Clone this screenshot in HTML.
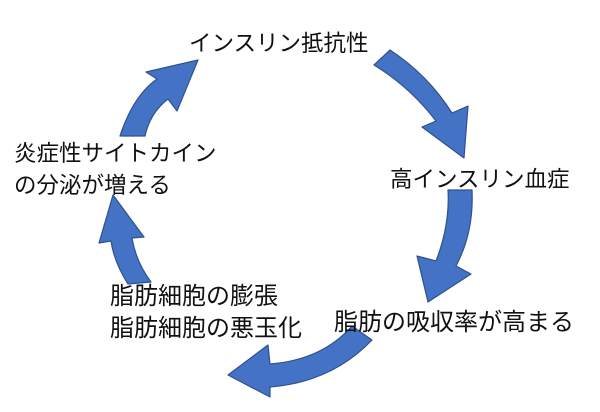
<!DOCTYPE html>
<html><head><meta charset="utf-8"><style>
body{margin:0;width:600px;height:412px;background:#fff;overflow:hidden;position:relative;font-family:"Liberation Sans","Noto Sans CJK JP",sans-serif;color:#111}
.t{position:absolute;font-size:22.5px;line-height:32px;white-space:nowrap}
svg{position:absolute;left:0;top:0}
</style></head><body>
<svg width="600" height="412">
<g fill="#4472C4" stroke="#2F528F" stroke-width="1.2" stroke-linejoin="round">
<path d="M390,50 Q428,75 452,113 L468,106 L464,158 L422,127 L436,121 Q410,87 374,65 Z"/>
<path d="M472,190 Q474,232 456,266 L471,274 L428,302 L417,256 L436,261 Q450,225 448,190 Z"/>
<path d="M372,340 Q332,382 270,387 L270,397 L228,375 L268,345 L270,364 Q322,360 352,326 Z"/>
<path d="M128,284 Q114,262 111,241 L99,243 L113,195 L144,237 L132,238 Q136,262 151,282 Z"/>
<path d="M120,136 Q133,96 157,79 L146,72 L198,60 L177,111 L168,99 Q150,113 145,136 Z"/>
</g></svg>
<div class="t" style="left:189px;top:28px">インスリン抵抗性</div>
<div class="t" style="left:390px;top:164px">高インスリン血症</div>
<div class="t" style="left:334px;top:307px;font-size:24px">脂肪の吸収率が高まる</div>
<div class="t" style="left:110px;top:281px;font-size:24px">脂肪細胞の膨張<br>脂肪細胞の悪玉化</div>
<div class="t" style="left:14px;top:138px">炎症性サイトカイン<br>の分泌が増える</div>
</body></html>
